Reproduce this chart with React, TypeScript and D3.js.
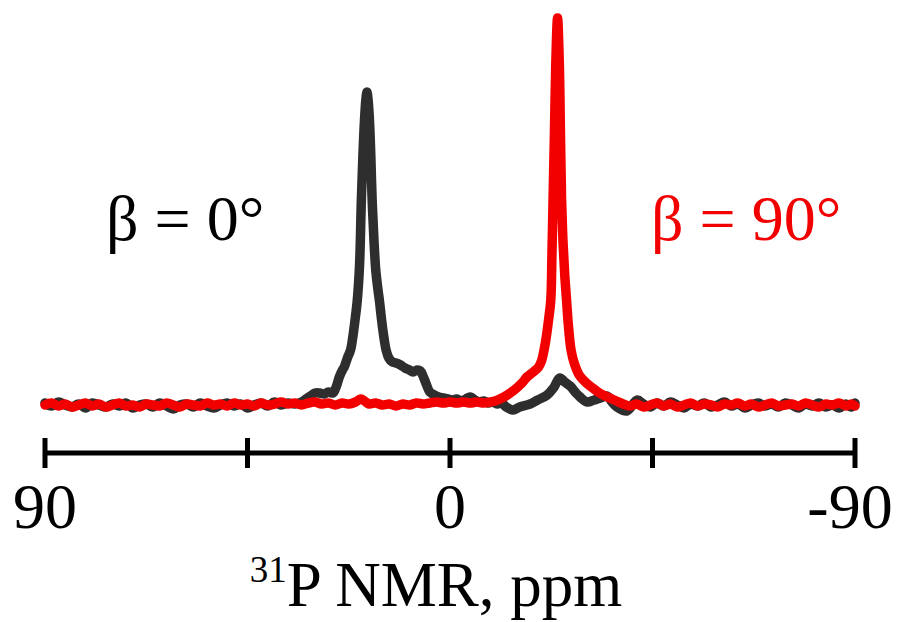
import React from "react";
import * as d3 from "d3";

// ppm, intensity (arbitrary units)
const blackSpectrum: [number, number][] = [
  [90, 2], [88.5, -1], [87, 3], [85.5, 0], [84, -2], [82.5, 1], [81, -3], [79.5, 2], [78, 0], [76.5, -2],
  [75, 1], [73.5, -1], [72, 2], [70.5, -3], [69, 0], [67.5, 1], [66, -2], [64.5, 2], [63, -1], [61.5, -4],
  [60, 0], [58.5, 1], [57, -2], [55.5, 2], [54, -1], [52.5, -3], [51, 0], [49.5, 2], [48, -1], [46.5, 1],
  [45, -3], [43.5, 0], [42, 2], [40.5, -1], [39, 3], [37.5, 0], [36, 2], [34.5, 1],
  [33, 3], [32, 6], [31, 9], [30, 12], [29, 12], [28, 11], [27, 13], [26, 12], [25.3, 18], [24.6, 28],
  [23.9, 35], [23.5, 38], [22.8, 47], [22.1, 55], [21.6, 68], [21.1, 85], [20.6, 105], [20.1, 140],
  [19.7, 205], [19.35, 250], [19.0, 285], [18.7, 305], [18.45, 313], [18.2, 305], [17.9, 285],
  [17.6, 250], [17.3, 205], [16.9, 165], [16.5, 135], [16.0, 115], [15.7, 105], [15.2, 85], [14.7, 68],
  [14.2, 55], [13.6, 47], [12.8, 43], [12, 42], [11, 40], [10, 37], [9, 35], [8.2, 33],
  [7.3, 35], [6.6, 34], [5.9, 28], [5.2, 20], [4.5, 13], [3.5, 10], [2.5, 8], [1.5, 7], [0.5, 6],
  [-0.5, 5], [-1.5, 6], [-2.5, 4], [-3.5, 6], [-4.5, 8], [-5.5, 5], [-6.5, 3], [-7.5, 4], [-8.5, 2],
  [-9.5, 3], [-10.5, 1], [-11.5, 2], [-12.5, -2], [-14, -5], [-15.5, -2], [-17.8, 1], [-19.5, 5],
  [-21.6, 10], [-23, 17], [-24.4, 27], [-25.5, 23], [-26.7, 19], [-28, 12], [-28.9, 8], [-30.5, 3],
  [-32, 5], [-33.5, 7], [-34.9, 9], [-36, 3], [-37.1, -2], [-39.3, -6], [-41.6, 5], [-43, 1],
  [-44.5, -2], [-46, 2], [-47.5, -1], [-49, 3], [-50.5, 0], [-52, -3], [-53.5, 1], [-55, -1], [-56.5, 2],
  [-58, -2], [-59.5, 0], [-61, 3], [-62.5, -1], [-64, 1], [-65.5, -3], [-67, 0], [-68.5, 2], [-70, -1],
  [-71.5, 1], [-73, -2], [-74.5, 2], [-76, 0], [-77.5, -3], [-79, 1], [-80.5, -1], [-82, 2], [-83.5, -2],
  [-85, 0], [-86.5, -3], [-88, 1], [-89.2, -2], [-90, 2],
];

const redSpectrum: [number, number][] = [
  [90, 0], [88.5, 2], [87, -1], [85.5, 1], [84, -2], [82.5, 0], [81, 2], [79.5, -1], [78, 1], [76.5, -2],
  [75, 0], [73.5, 2], [72, -1], [70.5, 0], [69, -2], [67.5, 1], [66, 0], [64.5, -1], [63, 2], [61.5, 0],
  [60, -2], [58.5, 1], [57, 0], [55.5, -1], [54, 2], [52.5, 0], [51, 1], [49.5, -1], [48, 2], [46.5, 0],
  [45, 1], [43.5, -1], [42, 2], [40.5, 0], [39, 1], [37.5, 3], [36, 1], [34.5, 2], [33, 0], [31.5, 2],
  [30, 3], [28.5, 1], [27, 2], [25.5, 0], [24, 2], [22.5, 1], [21, 3], [19.8, 6], [19, 4], [18, 1],
  [16.5, 2], [15, 0], [13.5, 1], [12, -1], [10.5, 1], [9, 0], [7.5, 2], [6, 1], [4.5, 2], [3, 3],
  [1.5, 2], [0, 3], [-1.5, 2], [-3, 3], [-4.5, 2], [-6, 3], [-7.5, 2], [-9, 3],
  [-10, 4], [-12, 8], [-14, 14], [-16, 22], [-17.1, 28], [-18.5, 33], [-19.7, 38], [-20.4, 45],
  [-20.9, 55], [-21.4, 68], [-21.9, 85], [-22.4, 105], [-22.65, 150], [-22.9, 205], [-23.2, 270],
  [-23.5, 340], [-23.9, 387], [-24.3, 340], [-24.55, 270], [-24.8, 205], [-25.1, 165], [-25.5, 130],
  [-25.9, 105], [-26.3, 80], [-26.9, 55], [-27.6, 42], [-28.7, 30], [-30.3, 22],
  [-31.7, 17], [-33.2, 12], [-35, 8], [-37, 4], [-38.5, 1], [-40, -1], [-41.5, 1], [-43, -2],
  [-44.5, 0], [-46, 2], [-47.5, -1], [-49, 1], [-50.5, -2], [-52, 0], [-53.5, 2], [-55, -1], [-56.5, 1],
  [-58, 0], [-59.5, -2], [-61, 1], [-62.5, 0], [-64, 2], [-65.5, -1], [-67, 1], [-68.5, -2], [-70, 0],
  [-71.5, 2], [-73, -1], [-74.5, 0], [-76, 1], [-77.5, -1], [-79, 2], [-80.5, 0], [-82, -2], [-83.5, 1],
  [-85, 0], [-86.5, 2], [-88, -1], [-89.2, 1], [-90, -1],
];

const tickValues = [90, 45, 0, -45, -90];
const tickLabels = ["90", "", "0", "", "-90"];
const xDomain: [number, number] = [90, -90];
const yDomain: [number, number] = [0, 390];

export default function App() {
  const width = 904;
  const height = 622;
  const x = d3.scaleLinear().domain(xDomain).range([45, 855]);
  const y = d3.scaleLinear().domain(yDomain).range([405, 15]);
  const line = d3
    .line<[number, number]>()
    .x((d) => x(d[0]))
    .y((d) => y(d[1]))
    .curve(d3.curveCatmullRom.alpha(0.5));

  const axisY = 453;
  const font = "'Liberation Serif', 'Times New Roman', serif";

  return (
    <svg
      width={width}
      height={height}
      style={{ position: "absolute", left: 0, top: 0, background: "#fff" }}
    >
      <rect width={width} height={height} fill="#fff" />
      <path d={line(blackSpectrum) || ""} fill="none" stroke="#2e2e2e" strokeWidth={9.5} strokeLinejoin="round" strokeLinecap="round" />
      <path d={line(redSpectrum) || ""} fill="none" stroke="#f20000" strokeWidth={9.5} strokeLinejoin="round" strokeLinecap="round" />

      <line x1={x(90)} x2={x(-90)} y1={axisY} y2={axisY} stroke="#000" strokeWidth={5} />
      {tickValues.map((t, i) => (
        <g key={t}>
          <line x1={x(t)} x2={x(t)} y1={438} y2={468} stroke="#000" strokeWidth={5} />
          {tickLabels[i] && (
            <text x={x(t) - (t === -90 ? 5 : 0)} y={528} textAnchor="middle" fontFamily={font} fontSize={64} fill="#000">
              {tickLabels[i]}
            </text>
          )}
        </g>
      ))}

      <text x={436} y={606} textAnchor="middle" fontFamily={font} fontSize={63} fill="#000">
        <tspan fontSize={37} dy={-24}>31</tspan>
        <tspan dy={24}>P NMR, ppm</tspan>
      </text>

      <text x={106} y={240} fontFamily={font} fontSize={64} fill="#000">
        β = 0°
      </text>
      <text x={651} y={240} fontFamily={font} fontSize={64} fill="#f20000">
        β = 90°
      </text>
    </svg>
  );
}
